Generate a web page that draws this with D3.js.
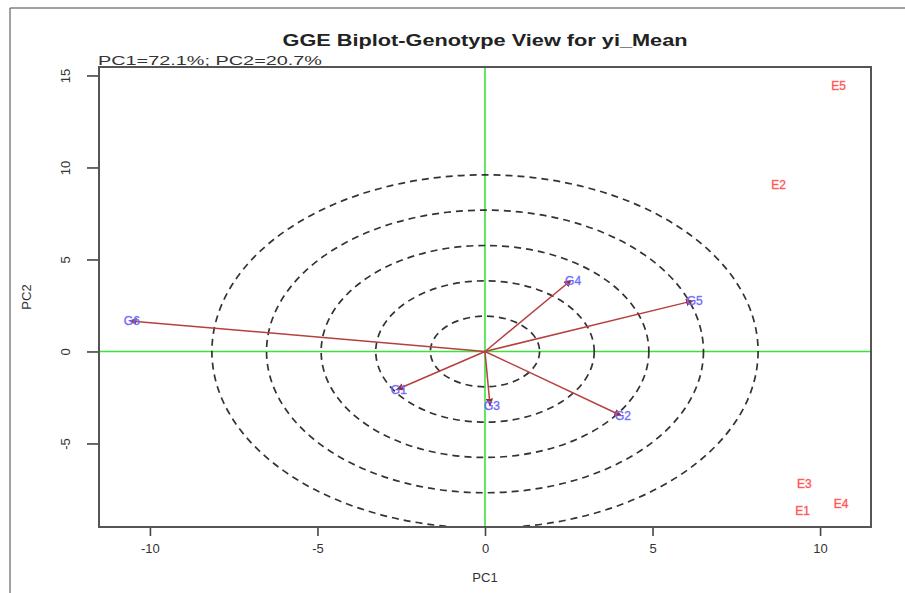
<!DOCTYPE html>
<html>
<head>
<meta charset="utf-8">
<script src="https://cdn.jsdelivr.net/npm/d3@7"></script>
<style>
  body { margin: 0; background: #fff; }
  svg { display: block; font-family: "Liberation Sans", Arial, sans-serif; }
</style>
</head>
<body>
<div id="graph"></div>
<script>
// genotype vectors (PC1, PC2)
const genotypes = ["G1", "G2", "G3", "G4", "G5", "G6"];
const genoPC1 = [-2.63, 4.06, 0.15, 2.57, 6.2, -10.6];
const genoPC2 = [-2.07, -3.48, -2.93, 3.87, 2.75, 1.66];

// environment labels
const environments = ["E1", "E2", "E3", "E4", "E5"];
const envPC1 = [9.48, 8.76, 9.53, 10.63, 10.55];
const envPC2 = [-8.67, 9.1, -7.16, -8.25, 14.43];

// concentric rings (radius along PC1 and along PC2)
const ringPC1 = [1.63, 3.26, 4.89, 6.52, 8.15];
const ringPC2 = [1.92, 3.84, 5.76, 7.68, 9.6];

const xTicks = [-10, -5, 0, 5, 10];
const yTicks = [-5, 0, 5, 10, 15];

const w = 905;
const h = 593;
const pLeft = 99, pRight = 871, pTop = 67, pBottom = 527;

const xScale = d3.scaleLinear().domain([-11.52, 11.52]).range([pLeft, pRight]);
const yScale = d3.scaleLinear().domain([-9.54, 15.46]).range([pBottom, pTop]);
const fmt = (d) => String(d);

const svg = d3.select("#graph").append("svg")
  .attr("width", w)
  .attr("height", h);

// outer frame of the figure
svg.append("path")
  .attr("d", `M10,${h} L10,8 L${w},8`)
  .attr("fill", "none")
  .attr("stroke", "#444")
  .attr("stroke-width", 1);

svg.append("clipPath").attr("id", "plotclip")
  .append("rect")
  .attr("x", pLeft).attr("y", pTop)
  .attr("width", pRight - pLeft).attr("height", pBottom - pTop);

const plot = svg.append("g").attr("clip-path", "url(#plotclip)");

// reference axes through origin
plot.append("line")
  .attr("x1", pLeft).attr("x2", pRight)
  .attr("y1", yScale(0)).attr("y2", yScale(0))
  .attr("stroke", "#3be23b").attr("stroke-width", 1.6);
plot.append("line")
  .attr("x1", xScale(0)).attr("x2", xScale(0))
  .attr("y1", pTop).attr("y2", pBottom)
  .attr("stroke", "#3be23b").attr("stroke-width", 1.6);

// dashed rings
plot.selectAll(".ring")
  .data(ringPC1.map((r, i) => ({ rx: r, ry: ringPC2[i] })))
  .enter()
  .append("ellipse")
  .attr("class", "ring")
  .attr("cx", xScale(0))
  .attr("cy", yScale(0))
  .attr("rx", (d) => xScale(d.rx) - xScale(0))
  .attr("ry", (d) => yScale(0) - yScale(d.ry))
  .attr("fill", "none")
  .attr("stroke", "#333")
  .attr("stroke-width", 1.7)
  .attr("stroke-dasharray", "7,5");

// arrow head
svg.append("defs").append("marker")
  .attr("id", "head")
  .attr("viewBox", "0 0 10 10")
  .attr("refX", 9).attr("refY", 5)
  .attr("markerWidth", 5).attr("markerHeight", 5)
  .attr("orient", "auto")
  .append("path")
  .attr("d", "M0,0 L10,5 L0,10 z")
  .attr("fill", "#9b2a2a");

const geno = genotypes.map((g, i) => ({ name: g, x: genoPC1[i], y: genoPC2[i] }));
const env = environments.map((e, i) => ({ name: e, x: envPC1[i], y: envPC2[i] }));

plot.selectAll(".vec")
  .data(geno)
  .enter()
  .append("line")
  .attr("class", "vec")
  .attr("x1", xScale(0)).attr("y1", yScale(0))
  .attr("x2", (d) => xScale(d.x))
  .attr("y2", (d) => yScale(d.y))
  .attr("stroke", "#b5403f")
  .attr("stroke-width", 1.5)
  .attr("marker-end", "url(#head)");

plot.selectAll(".glab")
  .data(geno)
  .enter()
  .append("text")
  .attr("class", "glab")
  .attr("x", (d) => xScale(d.x) + 2)
  .attr("y", (d) => yScale(d.y) + 4.5)
  .attr("text-anchor", "middle")
  .attr("font-size", 12)
  .attr("fill", "#4a4aff")
  .attr("stroke", "#8f8fff")
  .attr("stroke-width", 0.4)
  .text((d) => d.name);

plot.selectAll(".elab")
  .data(env)
  .enter()
  .append("text")
  .attr("class", "elab")
  .attr("x", (d) => xScale(d.x))
  .attr("y", (d) => yScale(d.y) + 4.5)
  .attr("text-anchor", "middle")
  .attr("font-size", 12)
  .attr("fill", "#ff3030")
  .attr("stroke", "#ff8080")
  .attr("stroke-width", 0.4)
  .text((d) => d.name);

// plot box
svg.append("rect")
  .attr("x", pLeft).attr("y", pTop)
  .attr("width", pRight - pLeft).attr("height", pBottom - pTop)
  .attr("fill", "none")
  .attr("stroke", "#555")
  .attr("stroke-width", 2);

// axes
const xAxis = d3.axisBottom(xScale).tickValues(xTicks).tickSize(8).tickPadding(8).tickFormat(fmt);
const yAxis = d3.axisLeft(yScale).tickValues(yTicks).tickSize(11).tickPadding(0).tickFormat(fmt);

const gx = svg.append("g")
  .attr("id", "x-axis")
  .attr("transform", `translate(0, ${pBottom + 1})`)
  .call(xAxis);
gx.select(".domain").remove();
gx.selectAll("line").attr("stroke", "#444").attr("stroke-width", 1.6);
gx.selectAll("text").attr("font-size", 13).attr("fill", "#333")
  .attr("font-family", "Liberation Sans, Arial, sans-serif");

const gy = svg.append("g")
  .attr("id", "y-axis")
  .attr("transform", `translate(${pLeft - 1}, 0)`)
  .call(yAxis);
gy.select(".domain").remove();
gy.selectAll("line").attr("stroke", "#444").attr("stroke-width", 1.6);
gy.selectAll("text")
  .attr("font-size", 13).attr("fill", "#333")
  .attr("font-family", "Liberation Sans, Arial, sans-serif")
  .attr("x", 0).attr("dy", 0)
  .attr("text-anchor", "middle")
  .attr("transform", "translate(-31, 0) rotate(-90)")
  .attr("dominant-baseline", "middle");

// titles
svg.append("text")
  .attr("x", 485).attr("y", 46)
  .attr("text-anchor", "middle")
  .attr("font-size", 16)
  .attr("font-weight", "bold")
  .attr("fill", "#222")
  .attr("textLength", 405)
  .attr("lengthAdjust", "spacingAndGlyphs")
  .text("GGE Biplot-Genotype View for yi_Mean");

svg.append("text")
  .attr("x", 98).attr("y", 65)
  .attr("font-size", 12)
  .attr("fill", "#333")
  .attr("textLength", 224)
  .attr("lengthAdjust", "spacingAndGlyphs")
  .text("PC1=72.1%; PC2=20.7%");

svg.append("text")
  .attr("x", xScale(0)).attr("y", 582)
  .attr("text-anchor", "middle")
  .attr("font-size", 13)
  .attr("fill", "#333")
  .text("PC1");

svg.append("text")
  .attr("transform", `translate(31, ${(pTop + pBottom) / 2}) rotate(-90)`)
  .attr("text-anchor", "middle")
  .attr("font-size", 13)
  .attr("fill", "#333")
  .text("PC2");
</script>
</body>
</html>
